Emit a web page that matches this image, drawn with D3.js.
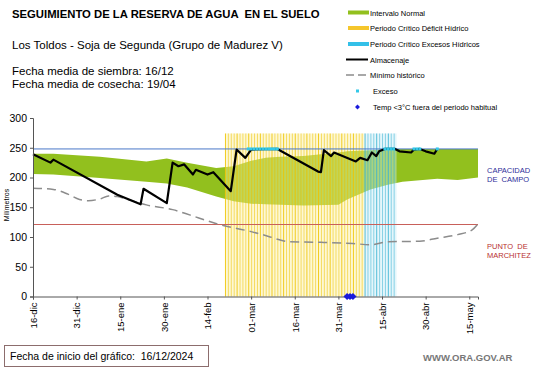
<!DOCTYPE html>
<html>
<head>
<meta charset="utf-8">
<script src="https://cdn.jsdelivr.net/npm/d3@7"></script>
<style>
  body { margin: 0; background: #fff; }
  svg { font-family: "Liberation Sans", Arial, sans-serif; }
  text { white-space: pre; }
</style>
</head>
<body>
<div class="graph"></div>
<script>
// days counted from 16-dic-2024
var tickDays = [0, 15, 30, 45, 60, 75, 90, 105, 120, 135, 150];
var tickLabels = ["16-dic", "31-dic", "15-ene", "30-ene", "14-feb", "01-mar", "16-mar", "31-mar", "15-abr", "30-abr", "15-may"];

// intervalo normal (dia, inferior, superior)
var bandDays  = [0, 7, 23, 39, 46, 53, 63, 69, 75, 80, 85, 93, 105, 108, 116, 122, 127, 139, 146, 153];
var bandLow   = [206, 205, 199, 193, 190, 183, 168, 160, 156, 155, 154, 153, 154, 163, 180, 188, 193, 198, 196, 200];
var bandHigh  = [240, 240, 235, 227, 232, 225, 216, 219, 228, 233, 235, 236, 242, 244, 246, 248, 248, 248, 248, 248];

// minimo historico
var minDays = [0, 7, 12, 16, 19, 23, 26, 29, 32, 39, 48, 57, 64, 75, 81, 85, 88, 99, 110, 116, 122, 133, 139, 146, 151, 153];
var minVals = [182, 180, 172, 163, 161, 164, 169, 168, 164, 154, 146, 132, 121, 109, 101, 95, 92, 91, 89, 87, 92, 93, 98, 104, 112, 122];

// almacenaje
var almDays = [0, 6, 7, 29, 37, 38, 46, 48, 50, 52, 55, 56, 60, 62, 68, 70, 73, 75, 84, 98, 99, 100, 102.5, 103.5, 111, 112.5, 115, 116.5, 118, 119, 121, 124.5, 126, 130, 131, 133, 135, 138, 139];
var almVals = [239, 225, 230, 171, 155, 181, 157, 225, 219, 222, 205, 213, 205, 209, 177, 247, 233, 247, 248, 210, 209, 246, 236, 242, 227, 233, 229, 242, 236, 244, 248, 248, 244, 242, 247, 248, 244, 240, 248];

// exceso
var excesoDays = [74, 75, 76, 77, 78, 79, 80, 81, 82, 83, 84, 121, 122, 123, 124, 131, 132, 133, 139];
var excesoVal = 248;

// periodos criticos
var deficitStart = 66, deficitEnd = 113;
var excesoStart = 114, excesoEnd = 124;
var periodTop = 274;

// temp < 3C
var tempDays = [108, 109, 110];

var capacidad = 248;
var marchitez = 121;

var W = 541, H = 368;
var svg = d3.select(".graph").append("svg")
  .attr("width", W)
  .attr("height", H);

var x = d3.scaleLinear().domain([0, 153]).range([33, 478]);
var y = d3.scaleLinear().domain([0, 300]).range([296.5, 118]);

// titles
svg.append("text").attr("x", 12).attr("y", 18)
  .style("font-size", "11.3px").style("font-weight", "bold")
  .text("SEGUIMIENTO DE LA RESERVA DE AGUA  EN EL SUELO");
svg.append("text").attr("x", 12).attr("y", 49)
  .style("font-size", "11.5px")
  .text("Los Toldos - Soja de Segunda (Grupo de Madurez V)");
svg.append("text").attr("x", 12).attr("y", 75)
  .style("font-size", "11.5px")
  .text("Fecha media de siembra: 16/12");
svg.append("text").attr("x", 12).attr("y", 88)
  .style("font-size", "11.5px")
  .text("Fecha media de cosecha: 19/04");

// green band
var band = bandDays.map(function (d, i) { return { d: d, lo: bandLow[i], hi: bandHigh[i] }; });
svg.append("path")
  .datum(band)
  .attr("fill", "#92c01e")
  .attr("d", d3.area()
    .x(function (d) { return x(d.d); })
    .y0(function (d) { return y(d.lo); })
    .y1(function (d) { return y(d.hi); }));

// periodos criticos
function periodBars(start, end, pale, strong) {
  var days = d3.range(start, end + 1);
  var g = svg.append("g");
  g.selectAll("rect").data(days).enter().append("rect")
    .attr("x", function (d) { return x(d); })
    .attr("width", function (d) { return x(d + 1) - x(d); })
    .attr("y", y(periodTop))
    .attr("height", y(0) - y(periodTop))
    .attr("fill", pale)
    .attr("opacity", 0.45);
  g.selectAll("line").data(days).enter().append("line")
    .attr("x1", function (d) { return x(d) + 0.5; })
    .attr("x2", function (d) { return x(d) + 0.5; })
    .attr("y1", y(periodTop))
    .attr("y2", y(0))
    .attr("stroke", strong)
    .attr("stroke-width", 1)
    .attr("opacity", function (d, i) { return i % 4 == 0 ? 0.85 : 0.55; });
}
periodBars(deficitStart, deficitEnd, "#fbf0a0", "#f0c400");
periodBars(excesoStart, excesoEnd, "#c6ecf6", "#3cb4d4");

// reference lines
svg.append("line")
  .attr("x1", x(0)).attr("x2", x(153))
  .attr("y1", y(capacidad)).attr("y2", y(capacidad))
  .attr("stroke", "#4a78c8").attr("stroke-width", 1);
svg.append("line")
  .attr("x1", x(0)).attr("x2", x(153))
  .attr("y1", y(marchitez)).attr("y2", y(marchitez))
  .attr("stroke", "#c8605a").attr("stroke-width", 1.2);

// minimo historico
svg.append("path")
  .datum(minDays.map(function (d, i) { return [d, minVals[i]]; }))
  .attr("fill", "none")
  .attr("stroke", "#8c8c8c")
  .attr("stroke-width", 1.5)
  .attr("stroke-dasharray", "9,5")
  .attr("d", d3.line().curve(d3.curveMonotoneX)
    .x(function (d) { return x(d[0]); })
    .y(function (d) { return y(d[1]); }));

// almacenaje
svg.append("path")
  .datum(almDays.map(function (d, i) { return [d, almVals[i]]; }))
  .attr("fill", "none")
  .attr("stroke", "#000")
  .attr("stroke-width", 2.2)
  .attr("stroke-linejoin", "round")
  .attr("d", d3.line()
    .x(function (d) { return x(d[0]); })
    .y(function (d) { return y(d[1]); }));

// exceso
svg.append("g").selectAll("rect").data(excesoDays).enter().append("rect")
  .attr("x", function (d) { return x(d) - 1.5; })
  .attr("y", y(excesoVal) - 1.5)
  .attr("width", 3).attr("height", 3)
  .attr("fill", "#33c8e8");

// axes
var yAxis = svg.append("g")
  .attr("transform", "translate(" + x(0) + ",0)")
  .call(d3.axisLeft(y).tickValues([0, 50, 100, 150, 200, 250, 300]).tickSize(3).tickPadding(3));
yAxis.select(".domain").attr("stroke", "#555");
yAxis.selectAll("line").attr("stroke", "#555");
yAxis.selectAll("text").style("font-size", "10.5px").attr("fill", "#000");

var xAxis = svg.append("g")
  .attr("transform", "translate(0," + y(0) + ")")
  .call(d3.axisBottom(x).tickValues(tickDays).tickSize(3)
    .tickFormat(function (d, i) { return tickLabels[i]; }));
xAxis.select(".domain").attr("stroke", "#555");
xAxis.selectAll("line").attr("stroke", "#555");
xAxis.selectAll("text")
  .style("font-size", "9.5px")
  .attr("fill", "#000")
  .attr("text-anchor", "end")
  .attr("transform", "rotate(-90)")
  .attr("x", -6)
  .attr("y", 0)
  .attr("dy", "0.35em");

// temp diamonds
svg.append("g").selectAll("path").data(tempDays).enter().append("path")
  .attr("d", d3.symbol().type(d3.symbolSquare).size(26))
  .attr("transform", function (d) { return "translate(" + x(d) + "," + y(0) + ") rotate(45)"; })
  .attr("fill", "#1a1adc");

svg.append("text")
  .attr("transform", "translate(9,205) rotate(-90)")
  .attr("text-anchor", "middle")
  .style("font-size", "7px")
  .text("Milímetros");

// right labels
svg.append("text").attr("x", 487).attr("y", 173).style("font-size", "7.5px").attr("fill", "#2e2e9a").text("CAPACIDAD");
svg.append("text").attr("x", 487).attr("y", 182).style("font-size", "7.5px").attr("fill", "#2e2e9a").text("DE  CAMPO");
svg.append("text").attr("x", 487).attr("y", 249).style("font-size", "7.5px").attr("fill", "#b83030").text("PUNTO  DE");
svg.append("text").attr("x", 487).attr("y", 258).style("font-size", "7.5px").attr("fill", "#b83030").text("MARCHITEZ");

// legend
var legend = svg.append("g").style("font-size", "7.5px");
var lx = 348, tx = 370;
legend.append("rect").attr("x", lx).attr("y", 10.5).attr("width", 21).attr("height", 4).attr("fill", "#92c01e");
legend.append("text").attr("x", tx).attr("y", 15.5).text("Intervalo Normal");
legend.append("rect").attr("x", lx).attr("y", 26).attr("width", 21).attr("height", 4).attr("fill", "#f5c62c");
legend.append("text").attr("x", tx).attr("y", 31).text("Periodo Crítico Déficit Hídrico");
legend.append("rect").attr("x", lx).attr("y", 42).attr("width", 21).attr("height", 4).attr("fill", "#33c0e8");
legend.append("text").attr("x", tx).attr("y", 47).text("Periodo Crítico Excesos Hídricos");
legend.append("line").attr("x1", 346).attr("x2", 368).attr("y1", 59.5).attr("y2", 59.5).attr("stroke", "#000").attr("stroke-width", 2);
legend.append("text").attr("x", tx).attr("y", 62.5).text("Almacenaje");
legend.append("line").attr("x1", 346).attr("x2", 368).attr("y1", 75).attr("y2", 75).attr("stroke", "#8c8c8c").attr("stroke-width", 1.5).attr("stroke-dasharray", "8,4");
legend.append("text").attr("x", tx).attr("y", 78).text("Mínimo histórico");
legend.append("rect").attr("x", 356).attr("y", 89.5).attr("width", 3).attr("height", 3).attr("fill", "#33c8e8");
legend.append("text").attr("x", tx + 3).attr("y", 94).text("Exceso");
legend.append("path").attr("d", d3.symbol().type(d3.symbolSquare).size(12)).attr("transform", "translate(357.5,107) rotate(45)").attr("fill", "#1a1adc");
legend.append("text").attr("x", tx + 3).attr("y", 110).text("Temp <3°C fuera del periodo habitual");

// footer
svg.append("rect").attr("x", 4.5).attr("y", 345.5).attr("width", 204).attr("height", 21)
  .attr("fill", "none").attr("stroke", "#8c6d6d").attr("stroke-width", 1);
svg.append("text").attr("x", 10).attr("y", 360).style("font-size", "10.5px")
  .text("Fecha de inicio del gráfico:  16/12/2024");
svg.append("text").attr("x", 423).attr("y", 361).style("font-size", "9.5px").style("font-weight", "bold")
  .attr("fill", "#777").text("WWW.ORA.GOV.AR");
</script>
</body>
</html>
